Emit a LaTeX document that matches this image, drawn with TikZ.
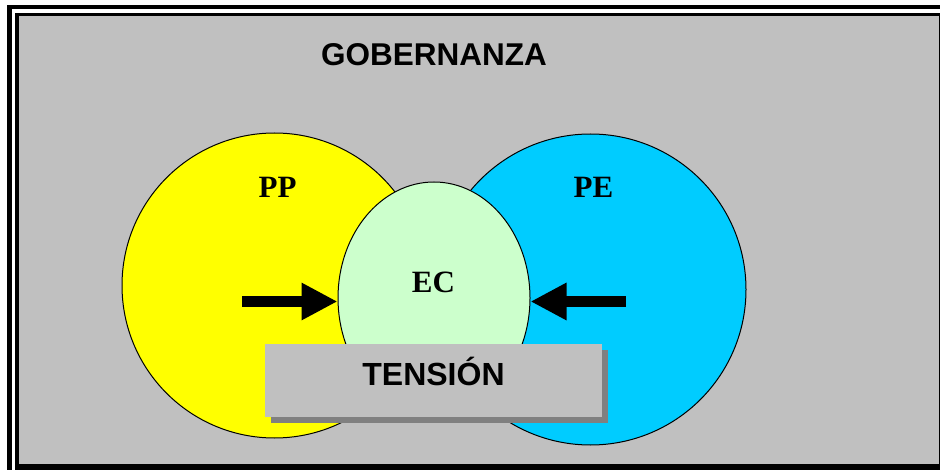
\documentclass[tikz,border=0pt]{standalone}
\usepackage{fontspec}
\setmainfont{Liberation Serif}
\setsansfont{Liberation Sans}
\usepackage{tikz}
\usetikzlibrary{arrows.meta, positioning, shapes.geometric, shadows}
\definecolor{framegray}{RGB}{192,192,192}
\definecolor{shadowgray}{RGB}{128,128,128}
\definecolor{ppyellow}{RGB}{255,255,0}
\definecolor{peblue}{RGB}{0,204,255}
\definecolor{ecgreen}{RGB}{204,255,204}

\begin{document}
\begin{tikzpicture}[x=1pt,y=-1pt,
    setname/.style={font=\fontsize{31}{36}\selectfont\bfseries,anchor=base,inner sep=0pt},
    setcircle/.style={circle,draw,line width=1pt,inner sep=0pt},
    pusharrow/.style={line width=11pt,-{Triangle[length=36pt,width=35pt]}}]
    \useasboundingbox (0,0) rectangle (940,470);
    % double frame
    \fill[white] (0,0) rectangle (940,470);
    \fill[black] (7,5) rectangle (940,470);
    \fill[white] (12,9) rectangle (940,470);
    \fill[black] (15,13) rectangle (940,470);
    \fill[framegray] (19,16) rectangle (939,464);

    % title
    \node[anchor=base,inner sep=0pt,font=\sffamily\fontsize{31.5}{36}\selectfont\bfseries] (gob) at (434,65.7) {GOBERNANZA};

    % sets
    \node[setcircle,fill=ppyellow,minimum size=305pt] (pp) at (274.5,285.5) {};
    \node[setcircle,fill=peblue,minimum size=311pt] (pe) at (590.5,289.5) {};
    \node[ellipse,draw,line width=1pt,fill=ecgreen,inner sep=0pt,minimum width=192pt,minimum height=232pt] (ec) at (434,298) {};
    \node[setname] (ppname) at (277.5,198) {PP};
    \node[setname] (pename) at (593.5,198) {PE};
    \node[setname] (ecname) at (433.5,293) {EC};

    % arrows
    \coordinate (ltail) at (242,301.5);
    \coordinate (rtail) at (626,301.5);
    \draw[pusharrow] (ltail) -- (ltail -| ec.west);
    \draw[pusharrow] (rtail) -- (rtail -| ec.east);

    % tension box
    \node[fill=framegray,inner sep=0pt,minimum width=337pt,minimum height=73pt,text height=23pt,text depth=14pt,
        font=\sffamily\fontsize{32}{36}\selectfont\bfseries,
        drop shadow={shadow xshift=6pt,shadow yshift=-6pt,fill=shadowgray,opacity=1}] (tension) at (433.5,380.5) {TENSIÓN};
\end{tikzpicture}
\end{document}
